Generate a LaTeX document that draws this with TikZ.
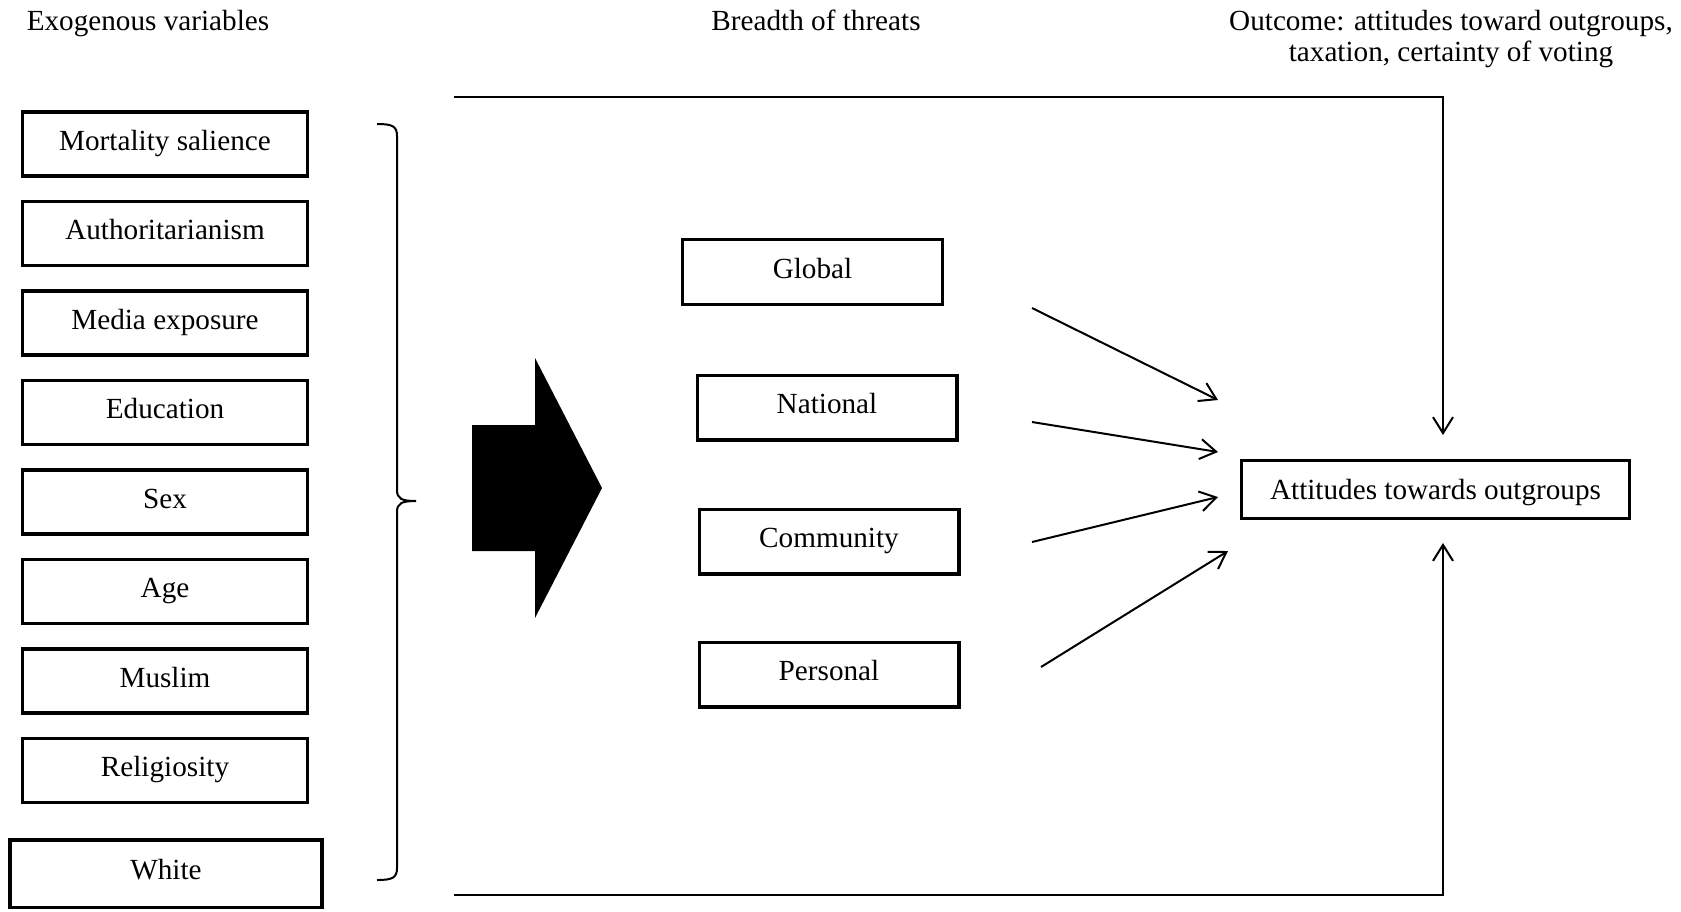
\documentclass[tikz,border=0pt]{standalone}
\usepackage{fontspec}
\setmainfont{Liberation Serif}
\usetikzlibrary{arrows.meta, positioning}

\begin{document}
\begin{tikzpicture}
    [
        x=0.5pt, y=-0.5pt,
        font=\fontsize{14.6}{15.5}\selectfont,
        node distance=11pt,
        var/.style    ={draw=black, line width=1.7pt, minimum width=142.3pt,
                        minimum height=32.05pt, inner sep=2pt,
                        text height=10pt, text depth=4pt},
        threat/.style ={draw=black, line width=1.7pt, minimum width=129.8pt,
                        minimum height=32.3pt, inner sep=2pt,
                        text height=10pt, text depth=4pt},
        outc/.style   ={draw=black, line width=1.7pt, minimum width=193.8pt,
                        minimum height=28.8pt, inner sep=2pt,
                        text height=11pt, text depth=1.5pt},
        head/.style   ={align=center, inner sep=0pt},
        oarc/.style   ={-{Straight Barb[length=8pt, width=10pt]}, line width=1pt},
        oline/.style  ={line width=1pt}
    ]

    \useasboundingbox (0,0) rectangle (1681,911);

    % column headings
    \node[head, anchor=base] (hexo)  at (148,30)  {Exogenous variables};
    \node[head, anchor=base] (hthr)  at (816,30)  {Breadth of threats};
    \node[head, anchor=base] (hout)  at (1451,61) {Outcome: attitudes toward outgroups,\\taxation, certainty of voting};

    % exogenous variables
    \node[var]      (mort)  at (165,144)         {Mortality salience};
    \node[var]      (auth)  [below=of mort]      {Authoritarianism};
    \node[var]      (media) [below=of auth]      {Media exposure};
    \node[var]      (edu)   [below=of media]     {Education};
    \node[var]      (sex)   [below=of edu]       {Sex};
    \node[var]      (age)   [below=of sex]       {Age};
    \node[var]      (musl)  [below=of age]       {Muslim};
    \node[var]      (relig) [below=of musl]      {Religiosity};
    \node[var, minimum width=155.9pt, minimum height=33.9pt]
                    (white) [below=17pt of relig, xshift=0.5pt] {White};

    % brace and block arrow
    \draw[oline] (377,124) .. controls (392,124) and (397,126) .. (397,136)
        -- (397,490) .. controls (397,499) and (402,501) .. (416,501)
        .. controls (402,501) and (397,503) .. (397,512)
        -- (397,868) .. controls (397,878) and (392,880) .. (377,880);
    \fill (472,425) -- (535,425) -- (535,358) -- (602,488) -- (535,618)
        -- (535,551) -- (472,551) -- cycle;

    % breadth of threats
    \node[threat]   (glob)  at (812.5,272)       {Global};
    \node[threat]   (nat)   at (827,407.5)       {National};
    \node[threat]   (comm)  at (829,541.5)       {Community};
    \node[threat]   (pers)  at (829,674.5)       {Personal};

    % outcome
    \node[outc]     (att)   at (1435.5,489.5)    {Attitudes towards outgroups};

    \coordinate (glob-o) at (1032,308);
    \coordinate (nat-o)  at (1032,422);
    \coordinate (comm-o) at (1032,542);
    \coordinate (pers-o) at (1041,667);
    \coordinate (att-i1) at (1218,400);
    \coordinate (att-i2) at (1218,452);
    \coordinate (att-i3) at (1218,497);
    \coordinate (att-i4) at (1228,551);

    \draw[oarc]     (glob-o) -- (att-i1);
    \draw[oarc]     (nat-o)  -- (att-i2);
    \draw[oarc]     (comm-o) -- (att-i3);
    \draw[oarc]     (pers-o) -- (att-i4);

    \coordinate (topl) at (454,97);
    \coordinate (topr) at (1443,97);
    \coordinate (botl) at (454,895);
    \coordinate (botr) at (1443,895);

    \draw[oarc, shorten >=12pt]   (topl) -- (topr) -- (topr |- att.north);
    \draw[oarc, shorten >=11.5pt] (botl) -- (botr) -- (botr |- att.south);

\end{tikzpicture}
\end{document}
